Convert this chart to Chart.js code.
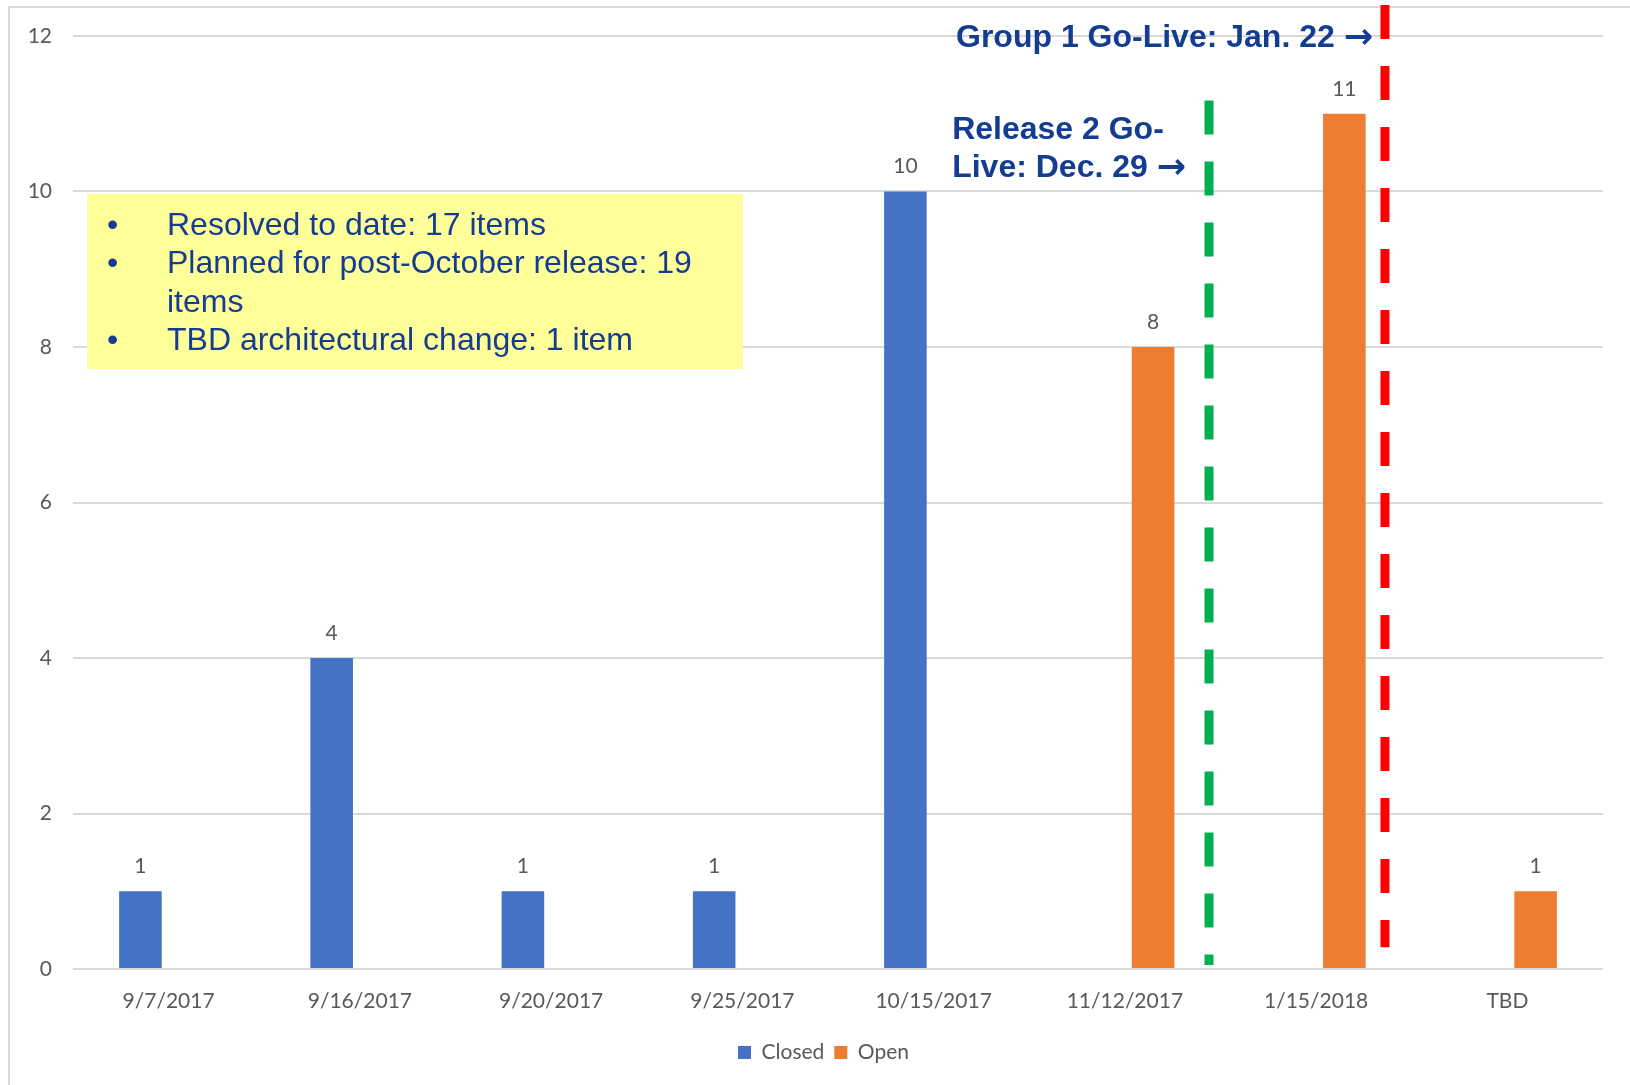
<!DOCTYPE html>
<html>
<head>
<meta charset="utf-8">
<title>Issues by target date</title>
<script src="https://cdn.jsdelivr.net/npm/chart.js@4.4.0/dist/chart.umd.min.js"></script>
<style>
  html, body { margin: 0; padding: 0; background: #fff; }
  #wrap { width: 1630px; height: 1085px; position: relative; }
</style>
</head>
<body>
<div id="wrap"><canvas id="issuesChart"></canvas></div>
<script>
// chart data
const categories = ['9/7/2017', '9/16/2017', '9/20/2017', '9/25/2017', '10/15/2017', '11/12/2017', '1/15/2018', 'TBD'];
const closedItems = [1, 4, 1, 1, 10, null, null, null];
const openItems = [null, null, null, null, null, 8, 11, 1];
const yMax = 12;
const yStep = 2;

// text in the yellow box
const noteItems = [
  'Resolved to date: 17 items',
  'Planned for post-October release: 19 items',
  'TBD architectural change: 1 item'
];

// go-live markers, placed in category units (between the dates)
const milestoneText = [['Release 2 Go-', 'Live: Dec. 29'], ['Group 1 Go-Live: Jan. 22']];
const milestoneAt = [5.44, 6.36];

const GREY_TEXT = '#595959';
const GRID = '#D9D9D9';
const NAVY = '#143C91';
const LABEL_FONT = 'Lato, "Liberation Sans", sans-serif';

const framePlugin = {
  id: 'frame',
  afterLayout(chart) {
    // nudge the legend so it sits where the original one does
    chart.legend.left += 22;
    chart.legend.right += 22;
  },
  beforeDraw(chart) {
    const ctx = chart.ctx;
    ctx.save();
    ctx.fillStyle = '#fff';
    ctx.fillRect(0, 0, chart.width, chart.height);
    ctx.strokeStyle = GRID;
    ctx.lineWidth = 2;
    ctx.beginPath();
    ctx.moveTo(9, chart.height);
    ctx.lineTo(9, 7);
    ctx.lineTo(chart.width, 7);
    ctx.stroke();
    ctx.restore();
  }
};

const notePlugin = {
  id: 'noteBox',
  beforeDatasetsDraw(chart) {
    const ctx = chart.ctx;
    const box = { x: 87, y: 194, w: 656, h: 175 };
    ctx.save();
    ctx.fillStyle = '#FFFF99';
    ctx.fillRect(box.x, box.y, box.w, box.h);
    ctx.fillStyle = NAVY;
    ctx.font = '32px "Liberation Sans", Arial, sans-serif';
    ctx.textBaseline = 'middle';
    const textX = 167, maxW = 560, lineH = 38.5;
    let y = 226;
    noteItems.forEach(item => {
      ctx.fillText('\u2022', 107, y);
      let line = '';
      item.split(' ').forEach(word => {
        const test = line ? line + ' ' + word : word;
        if (ctx.measureText(test).width > maxW && line) {
          ctx.fillText(line, textX, y);
          y += lineH;
          line = word;
        } else {
          line = test;
        }
      });
      ctx.fillText(line, textX, y);
      y += lineH;
    });
    ctx.restore();
  }
};

const milestonePlugin = {
  id: 'milestones',
  afterDatasetsDraw(chart) {
    const ctx = chart.ctx;
    const x = chart.scales.x, y = chart.scales.y;
    const styles = [
      { color: '#00B050', from: 11.17, to: 0.05, textY: [10.79, 10.30], gap: 23 },
      { color: '#FF0000', from: 12.4, to: 0.28, textY: [11.97], gap: 12 }
    ];
    const textFont = 'bold 32px "Liberation Sans", Arial, sans-serif';
    const arrowFont = 'bold 35px "DejaVu Sans", sans-serif';
    ctx.save();
    milestoneAt.forEach((pos, i) => {
      const s = styles[i];
      const px = x.getPixelForValue(pos);
      ctx.strokeStyle = s.color;
      ctx.lineWidth = 9;
      ctx.setLineDash([34, 27]);
      ctx.beginPath();
      ctx.moveTo(px, y.getPixelForValue(s.from));
      ctx.lineTo(px, y.getPixelForValue(s.to));
      ctx.stroke();

      ctx.setLineDash([]);
      ctx.fillStyle = NAVY;
      ctx.textBaseline = 'middle';
      const lines = milestoneText[i];
      const last = lines[lines.length - 1];
      ctx.font = arrowFont;
      const arrowW = ctx.measureText('\u2192').width;
      ctx.font = textFont;
      const spaceW = ctx.measureText(' ').width;
      const left = px - s.gap - arrowW - spaceW - ctx.measureText(last).width;
      lines.forEach((t, k) => {
        const ty = y.getPixelForValue(s.textY[k]);
        ctx.font = textFont;
        ctx.fillText(t, left, ty);
        if (k === lines.length - 1) {
          const ax = left + ctx.measureText(t).width + spaceW;
          ctx.font = arrowFont;
          ctx.fillText('\u2192', ax, ty + 1);
        }
      });
    });
    ctx.restore();
  }
};

const valueLabels = {
  id: 'valueLabels',
  afterDatasetsDraw(chart) {
    const ctx = chart.ctx;
    ctx.save();
    ctx.fillStyle = GREY_TEXT;
    ctx.font = '21px ' + LABEL_FONT;
    ctx.textAlign = 'center';
    ctx.textBaseline = 'middle';
    chart.data.datasets.forEach((ds, di) => {
      chart.getDatasetMeta(di).data.forEach((bar, i) => {
        const v = ds.data[i];
        if (v === null || v === undefined) return;
        ctx.fillText(String(v), bar.x, bar.y - 25);
      });
    });
    ctx.restore();
  }
};

new Chart(document.getElementById('issuesChart'), {
  type: 'bar',
  data: {
    labels: categories,
    datasets: [
      { label: 'Closed', data: closedItems, backgroundColor: '#4472C4' },
      { label: 'Open', data: openItems, backgroundColor: '#ED7D31' }
    ]
  },
  options: {
    responsive: true,
    maintainAspectRatio: false,
    animation: false,
    datasets: { bar: { categoryPercentage: 0.59, barPercentage: 0.755 } },
    layout: { padding: { left: 0, right: 27, top: 36, bottom: 12 } },
    scales: {
      x: {
        grid: { display: false, drawTicks: false },
        border: { display: false },
        ticks: { color: GREY_TEXT, font: { family: LABEL_FONT, size: 21 }, padding: 20, maxRotation: 0 },
        afterFit(s) { s.height = 63; }
      },
      y: {
        min: 0,
        max: yMax,
        ticks: { stepSize: yStep, color: GREY_TEXT, font: { family: LABEL_FONT, size: 21 }, padding: 21 },
        grid: { color: GRID, lineWidth: 2, drawTicks: false },
        border: { display: false },
        afterFit(s) { s.width = 73; }
      }
    },
    plugins: {
      legend: {
        position: 'bottom',
        labels: {
          color: GREY_TEXT,
          font: { family: LABEL_FONT, size: 21 },
          boxWidth: 13,
          boxHeight: 13,
          padding: 10
        }
      },
      tooltip: { enabled: false }
    }
  },
  plugins: [framePlugin, notePlugin, milestonePlugin, valueLabels]
});
</script>
</body>
</html>
